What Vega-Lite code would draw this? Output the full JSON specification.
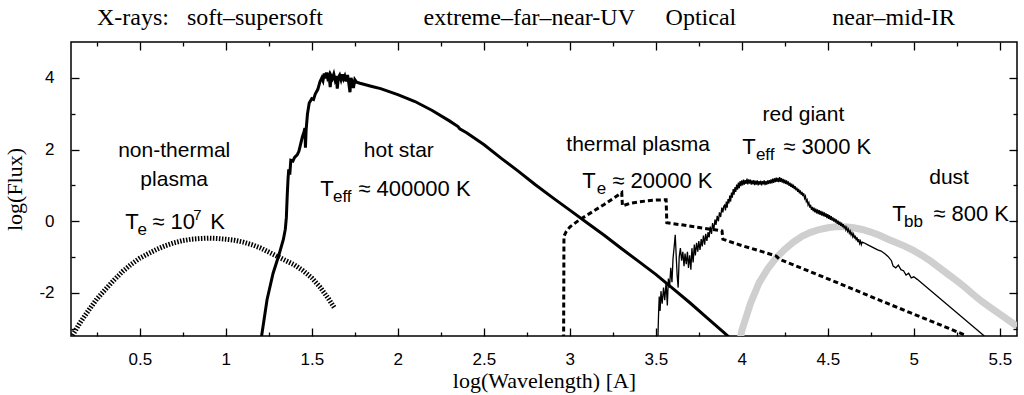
{
  "$schema": "https://vega.github.io/schema/vega-lite/v6.json",
  "width": 946,
  "height": 294,
  "autosize": {"type": "none"},
  "padding": {"left": 71, "top": 42, "right": 7, "bottom": 59},
  "background": "white",
  "config": {
    "font": "Liberation Sans",
    "view": {"stroke": "black", "strokeWidth": 1.5},
    "axis": {
      "domain": false,
      "tickColor": "black", "tickWidth": 1.3,
      "labelColor": "black", "labelFont": "Liberation Sans", "labelFontSize": 17,
      "titleColor": "black", "titleFont": "Liberation Serif", "titleFontSize": 22, "titleFontWeight": "normal",
      "grid": false
    }
  },
  "datasets": {
    "dust": [
      {"x":3.99,"y":-3.3},{"x":4.0,"y":-3.05},{"x":4.05,"y":-2.3},{"x":4.1,"y":-1.72},{"x":4.15,"y":-1.33},{"x":4.2,"y":-1.02},{"x":4.25,"y":-0.78},{"x":4.3,"y":-0.58},{"x":4.35,"y":-0.42},{"x":4.4,"y":-0.31},{"x":4.45,"y":-0.23},{"x":4.5,"y":-0.18},{"x":4.55,"y":-0.15},{"x":4.6,"y":-0.15},{"x":4.65,"y":-0.18},{"x":4.7,"y":-0.23},{"x":4.75,"y":-0.3},{"x":4.8,"y":-0.39},{"x":4.85,"y":-0.5},{"x":4.9,"y":-0.6},{"x":4.95,"y":-0.7},{"x":5.0,"y":-0.82},{"x":5.05,"y":-0.96},{"x":5.1,"y":-1.12},{"x":5.15,"y":-1.3},{"x":5.2,"y":-1.48},{"x":5.25,"y":-1.66},{"x":5.3,"y":-1.85},{"x":5.35,"y":-2.06},{"x":5.4,"y":-2.25},{"x":5.45,"y":-2.42},{"x":5.5,"y":-2.59},{"x":5.55,"y":-2.76},{"x":5.6,"y":-2.93}
    ],
    "nonthermal": [
      {"x":0.1,"y":-3.25},{"x":0.15,"y":-2.85},{"x":0.2,"y":-2.5},{"x":0.25,"y":-2.17},{"x":0.3,"y":-1.9},{"x":0.35,"y":-1.64},{"x":0.4,"y":-1.4},{"x":0.45,"y":-1.2},{"x":0.5,"y":-1.03},{"x":0.55,"y":-0.9},{"x":0.6,"y":-0.78},{"x":0.65,"y":-0.68},{"x":0.7,"y":-0.6},{"x":0.75,"y":-0.54},{"x":0.8,"y":-0.5},{"x":0.85,"y":-0.48},{"x":0.9,"y":-0.47},{"x":0.95,"y":-0.48},{"x":1.0,"y":-0.5},{"x":1.05,"y":-0.53},{"x":1.1,"y":-0.58},{"x":1.15,"y":-0.65},{"x":1.2,"y":-0.74},{"x":1.25,"y":-0.86},{"x":1.3,"y":-0.98},{"x":1.35,"y":-1.1},{"x":1.4,"y":-1.22},{"x":1.45,"y":-1.38},{"x":1.5,"y":-1.58},{"x":1.55,"y":-1.85},{"x":1.6,"y":-2.18},{"x":1.63,"y":-2.4}
    ],
    "hotstar": [
      {"x":1.205,"y":-3.3},{"x":1.24,"y":-2.18},{"x":1.275,"y":-1.45},{"x":1.307,"y":-0.97},{"x":1.335,"y":-0.5},{"x":1.346,"y":-0.22},{"x":1.352,"y":0.1},{"x":1.357,"y":0.7},{"x":1.362,"y":1.2},{"x":1.366,"y":1.45},{"x":1.372,"y":1.3},{"x":1.378,"y":1.7},{"x":1.39,"y":1.68},{"x":1.4,"y":1.78},{"x":1.415,"y":1.85},{"x":1.425,"y":1.95},{"x":1.435,"y":2.15},{"x":1.445,"y":2.35},{"x":1.455,"y":2.5},{"x":1.46,"y":2.6},{"x":1.463,"y":2.05},{"x":1.467,"y":2.55},{"x":1.475,"y":3.0},{"x":1.485,"y":3.3},{"x":1.5,"y":3.42},{"x":1.51,"y":3.4},{"x":1.52,"y":3.55},{"x":1.535,"y":3.68},{"x":1.548,"y":3.9},{"x":1.558,"y":4.0},{"x":1.565,"y":3.92},{"x":1.572,"y":4.12},{"x":1.578,"y":3.98},{"x":1.585,"y":4.15},{"x":1.592,"y":4.0},{"x":1.6,"y":4.08},{"x":1.607,"y":3.74},{"x":1.613,"y":4.05},{"x":1.62,"y":3.98},{"x":1.628,"y":4.1},{"x":1.635,"y":3.95},{"x":1.642,"y":4.05},{"x":1.648,"y":3.7},{"x":1.655,"y":4.02},{"x":1.662,"y":4.08},{"x":1.67,"y":3.95},{"x":1.678,"y":4.1},{"x":1.685,"y":3.97},{"x":1.692,"y":4.05},{"x":1.7,"y":3.9},{"x":1.708,"y":4.08},{"x":1.715,"y":3.85},{"x":1.722,"y":3.6},{"x":1.728,"y":4.0},{"x":1.735,"y":3.88},{"x":1.742,"y":3.72},{"x":1.75,"y":3.95},{"x":1.76,"y":3.88},{"x":1.78,"y":3.85},{"x":1.85,"y":3.76},{"x":1.9,"y":3.7},{"x":2.0,"y":3.53},{"x":2.1,"y":3.34},{"x":2.2,"y":3.09},{"x":2.3,"y":2.8},{"x":2.35,"y":2.64},{"x":2.36,"y":2.58},{"x":2.4,"y":2.47},{"x":2.5,"y":2.14},{"x":2.6,"y":1.76},{"x":2.7,"y":1.4},{"x":2.8,"y":1.02},{"x":2.9,"y":0.66},{"x":3.0,"y":0.31},{"x":3.1,"y":-0.04},{"x":3.2,"y":-0.39},{"x":3.3,"y":-0.76},{"x":3.4,"y":-1.12},{"x":3.5,"y":-1.48},{"x":3.6,"y":-1.88},{"x":3.7,"y":-2.28},{"x":3.8,"y":-2.7},{"x":3.9,"y":-3.12},{"x":3.93,"y":-3.25}
    ],
    "thermal": [
      {"x":2.964,"y":-3.3},{"x":2.966,"y":-0.42},{"x":2.98,"y":-0.28},{"x":3.0,"y":-0.16},{"x":3.05,"y":0.02},{"x":3.1,"y":0.17},{"x":3.15,"y":0.32},{"x":3.2,"y":0.47},{"x":3.25,"y":0.63},{"x":3.302,"y":0.8},{"x":3.306,"y":0.43},{"x":3.35,"y":0.5},{"x":3.4,"y":0.54},{"x":3.45,"y":0.57},{"x":3.5,"y":0.59},{"x":3.56,"y":0.6},{"x":3.564,"y":-0.04},{"x":3.65,"y":-0.1},{"x":3.76,"y":-0.18},{"x":3.885,"y":-0.27},{"x":3.89,"y":-0.5},{"x":4.0,"y":-0.68},{"x":4.1,"y":-0.82},{"x":4.2,"y":-0.97},{"x":4.22,"y":-1.06},{"x":4.4,"y":-1.41},{"x":4.6,"y":-1.8},{"x":4.8,"y":-2.2},{"x":5.0,"y":-2.59},{"x":5.2,"y":-2.98},{"x":5.3,"y":-3.18}
    ],
    "redgiant": [
      {"x":3.512,"y":-3.3},{"x":3.516,"y":-2.6},{"x":3.52,"y":-2.1},{"x":3.525,"y":-2.5},{"x":3.53,"y":-1.95},{"x":3.537,"y":-2.3},{"x":3.545,"y":-1.85},{"x":3.552,"y":-2.2},{"x":3.56,"y":-1.7},{"x":3.567,"y":-2.35},{"x":3.573,"y":-1.6},{"x":3.58,"y":-1.85},{"x":3.587,"y":-1.3},{"x":3.594,"y":-1.7},{"x":3.6,"y":-1.05},{"x":3.607,"y":-0.7},{"x":3.613,"y":-0.38},{"x":3.618,"y":-0.9},{"x":3.624,"y":-1.5},{"x":3.63,"y":-1.85},{"x":3.636,"y":-1.0},{"x":3.643,"y":-0.75},{"x":3.65,"y":-1.1},{"x":3.657,"y":-0.85},{"x":3.664,"y":-1.25},{"x":3.67,"y":-0.9},{"x":3.677,"y":-1.2},{"x":3.684,"y":-0.85},{"x":3.69,"y":-1.3},{"x":3.697,"y":-0.95},{"x":3.704,"y":-1.35},{"x":3.71,"y":-0.75},{"x":3.717,"y":-1.15},{"x":3.724,"y":-0.65},{"x":3.73,"y":-0.95},{"x":3.737,"y":-0.6},{"x":3.744,"y":-0.85},{"x":3.75,"y":-0.55},{"x":3.757,"y":-0.8},{"x":3.764,"y":-0.5},{"x":3.77,"y":-0.7},{"x":3.777,"y":-0.4},{"x":3.784,"y":-0.65},{"x":3.79,"y":-0.35},{"x":3.797,"y":-0.55},{"x":3.804,"y":-0.3},{"x":3.81,"y":-0.45},{"x":3.817,"y":-0.15},{"x":3.824,"y":-0.35},{"x":3.83,"y":-0.05},{"x":3.837,"y":-0.25},{"x":3.844,"y":0.05},{"x":3.85,"y":-0.1},{"x":3.857,"y":0.15},{"x":3.864,"y":0.0},{"x":3.87,"y":0.25},{"x":3.877,"y":0.12},{"x":3.884,"y":0.38},{"x":3.89,"y":0.25},{"x":3.895,"y":0.42},
      {"x":3.9,"y":0.45},{"x":3.905,"y":0.3},{"x":3.91,"y":0.55},{"x":3.915,"y":0.38},{"x":3.92,"y":0.62},{"x":3.925,"y":0.5},{"x":3.93,"y":0.72},{"x":3.935,"y":0.55},{"x":3.94,"y":0.8},{"x":3.945,"y":0.66},{"x":3.95,"y":0.9},{"x":3.955,"y":0.74},{"x":3.96,"y":0.95},{"x":3.965,"y":0.82},{"x":3.97,"y":1.02},{"x":3.975,"y":0.88},{"x":3.98,"y":1.08},{"x":3.985,"y":0.92},{"x":3.99,"y":1.12},{"x":3.995,"y":0.98},{"x":4.0,"y":1.14},{"x":4.005,"y":1.0},{"x":4.01,"y":1.16},{"x":4.015,"y":1.02},{"x":4.02,"y":1.15},{"x":4.025,"y":1.04},{"x":4.03,"y":1.19},{"x":4.035,"y":1.03},{"x":4.04,"y":1.17},{"x":4.045,"y":1.05},{"x":4.05,"y":1.16},{"x":4.055,"y":1.02},{"x":4.06,"y":1.14},{"x":4.065,"y":1.03},{"x":4.07,"y":1.15},{"x":4.075,"y":1.01},{"x":4.08,"y":1.13},{"x":4.085,"y":1.02},{"x":4.09,"y":1.14},{"x":4.095,"y":1.0},{"x":4.1,"y":1.12},{"x":4.105,"y":1.02},{"x":4.11,"y":1.13},{"x":4.115,"y":1.0},{"x":4.12,"y":1.12},{"x":4.125,"y":1.03},{"x":4.13,"y":1.14},{"x":4.135,"y":1.01},{"x":4.14,"y":1.12},{"x":4.145,"y":1.02},{"x":4.15,"y":1.14},{"x":4.155,"y":1.04},{"x":4.16,"y":1.15},{"x":4.165,"y":1.05},{"x":4.17,"y":1.17},{"x":4.175,"y":1.06},{"x":4.18,"y":1.19},{"x":4.185,"y":1.07},{"x":4.19,"y":1.2},{"x":4.195,"y":1.09},{"x":4.2,"y":1.22},{"x":4.205,"y":1.1},{"x":4.21,"y":1.21},{"x":4.215,"y":1.09},{"x":4.22,"y":1.23},{"x":4.225,"y":1.1},{"x":4.23,"y":1.2},{"x":4.235,"y":1.08},{"x":4.24,"y":1.18},{"x":4.245,"y":1.06},{"x":4.25,"y":1.16},{"x":4.255,"y":1.04},{"x":4.26,"y":1.14},{"x":4.265,"y":1.02},{"x":4.27,"y":1.11},{"x":4.275,"y":0.99},{"x":4.28,"y":1.08},{"x":4.285,"y":0.96},{"x":4.29,"y":1.05},{"x":4.295,"y":0.93},{"x":4.3,"y":1.02},{"x":4.305,"y":0.9},{"x":4.31,"y":0.98},{"x":4.315,"y":0.86},{"x":4.32,"y":0.94},{"x":4.325,"y":0.82},{"x":4.33,"y":0.9},{"x":4.335,"y":0.78},{"x":4.34,"y":0.86},{"x":4.345,"y":0.74},{"x":4.35,"y":0.82},{"x":4.355,"y":0.7},{"x":4.36,"y":0.78},{"x":4.365,"y":0.64},{"x":4.37,"y":0.7},{"x":4.375,"y":0.55},{"x":4.38,"y":0.6},{"x":4.385,"y":0.46},{"x":4.39,"y":0.52},{"x":4.395,"y":0.38},{"x":4.4,"y":0.46},{"x":4.405,"y":0.32},{"x":4.41,"y":0.4},{"x":4.415,"y":0.28},{"x":4.42,"y":0.38},{"x":4.425,"y":0.25},{"x":4.43,"y":0.35},{"x":4.435,"y":0.22},{"x":4.44,"y":0.33},{"x":4.445,"y":0.2},{"x":4.45,"y":0.31},{"x":4.455,"y":0.18},{"x":4.46,"y":0.29},{"x":4.465,"y":0.16},{"x":4.47,"y":0.27},{"x":4.475,"y":0.14},{"x":4.48,"y":0.25},{"x":4.485,"y":0.12},{"x":4.49,"y":0.22},{"x":4.495,"y":0.09},{"x":4.5,"y":0.2},{"x":4.505,"y":0.07},{"x":4.51,"y":0.17},{"x":4.515,"y":0.04},{"x":4.52,"y":0.14},{"x":4.525,"y":0.02},{"x":4.53,"y":0.11},{"x":4.535,"y":-0.01},{"x":4.54,"y":0.08},{"x":4.545,"y":-0.04},{"x":4.55,"y":0.05},{"x":4.555,"y":-0.07},{"x":4.56,"y":0.02},{"x":4.565,"y":-0.1},{"x":4.57,"y":-0.01},{"x":4.575,"y":-0.13},{"x":4.58,"y":-0.04},{"x":4.585,"y":-0.16},{"x":4.59,"y":-0.08},{"x":4.595,"y":-0.2},{"x":4.6,"y":-0.12},{"x":4.605,"y":-0.24},{"x":4.61,"y":-0.17},{"x":4.615,"y":-0.28},{"x":4.62,"y":-0.22},{"x":4.625,"y":-0.33},{"x":4.63,"y":-0.27},{"x":4.635,"y":-0.38},{"x":4.64,"y":-0.32},{"x":4.645,"y":-0.43},{"x":4.65,"y":-0.36},{"x":4.655,"y":-0.48},{"x":4.66,"y":-0.4},{"x":4.665,"y":-0.53},{"x":4.67,"y":-0.45},{"x":4.675,"y":-0.58},{"x":4.68,"y":-0.5},{"x":4.685,"y":-0.62},{"x":4.69,"y":-0.55},{"x":4.695,"y":-0.65},{"x":4.7,"y":-0.58},
      {"x":4.71,"y":-0.6},{"x":4.73,"y":-0.65},{"x":4.75,"y":-0.7},{"x":4.77,"y":-0.75},{"x":4.79,"y":-0.8},{"x":4.81,"y":-0.83},{"x":4.83,"y":-0.9},{"x":4.85,"y":-0.98},{"x":4.87,"y":-1.1},{"x":4.88,"y":-1.25},{"x":4.895,"y":-1.3},{"x":4.91,"y":-1.22},{"x":4.925,"y":-1.35},{"x":4.94,"y":-1.38},{"x":4.955,"y":-1.5},{"x":4.97,"y":-1.45},{"x":4.985,"y":-1.58},{"x":5.0,"y":-1.55},{"x":5.02,"y":-1.62},{"x":5.41,"y":-3.2}
    ],
    "toplabels": [
      {"t":"X-rays:","x":0.251,"y":5.47},{"t":"soft–supersoft","x":0.774,"y":5.47},{"t":"extreme–far–near-UV","x":2.15,"y":5.47},{"t":"Optical","x":3.557,"y":5.47},{"t":"near–mid-IR","x":4.526,"y":5.47}
    ],
    "centerlabels": [
      {"t":"non-thermal","x":0.7,"y":1.79},{"t":"plasma","x":0.7,"y":0.99},{"t":"hot star","x":2.006,"y":1.79},{"t":"thermal plasma","x":3.397,"y":1.96},{"t":"red giant","x":4.358,"y":2.8},{"t":"dust","x":5.205,"y":1.03}
    ],
    "mainparts": [
      {"t":"T","x":0.416,"y":-0.22},{"t":"≈ 10","x":0.573,"y":-0.22},{"t":"K","x":0.91,"y":-0.22},
      {"t":"T","x":1.549,"y":0.71},{"t":"≈ 400000 K","x":1.77,"y":0.71},
      {"t":"T","x":3.073,"y":0.94},{"t":"≈ 20000 K","x":3.247,"y":0.94},
      {"t":"T","x":4.003,"y":1.87},{"t":"≈ 3000 K","x":4.241,"y":1.87},
      {"t":"T","x":4.875,"y":0.01},{"t":"≈ 800 K","x":5.113,"y":0.01}
    ],
    "subparts": [
      {"t":"e","x":0.487,"y":-0.22},{"t":"eff","x":1.623,"y":0.71},{"t":"e","x":3.157,"y":0.94},{"t":"eff","x":4.082,"y":1.87},{"t":"bb","x":4.943,"y":0.01}
    ],
    "supparts": [
      {"t":"7","x":0.811,"y":-0.22}
    ]
  },
  "resolve": {"axis": {"x": "independent", "y": "independent"}},
  "layer": [
    {
      "data": {"name": "dust"},
      "mark": {"type": "line", "color": "#cfcfcf", "strokeWidth": 7, "clip": true},
      "encoding": {
        "x": {"field": "x", "type": "quantitative", "scale": {"domain": [0.1, 5.6], "nice": false, "zero": false},
          "axis": {"orient": "bottom", "title": "log(Wavelength) [A]", "values": [0.5,1,1.5,2,2.5,3,3.5,4,4.5,5,5.5],
            "ticks": false, "labelExpr": "'' + datum.value", "labelPadding": 15, "titlePadding": 3}},
        "y": {"field": "y", "type": "quantitative", "scale": {"domain": [-3.2, 5.0], "nice": false, "zero": false},
          "axis": {"orient": "left", "title": "log(Flux)", "values": [-2,0,2,4],
            "ticks": false, "labelExpr": "'' + datum.value", "labelPadding": 17, "titlePadding": 12}}
      }
    },
    {
      "data": {"name": "nonthermal"},
      "mark": {"type": "line", "color": "black", "strokeWidth": 5, "strokeDash": [1.5, 1.5], "clip": true},
      "encoding": {
        "x": {"field": "x", "type": "quantitative",
          "axis": {"orient": "top", "offset": -294, "title": null, "labels": false, "values": [0.5,1,1.5,2,2.5,3,3.5,4,4.5,5,5.5], "tickSize": 8}},
        "y": {"field": "y", "type": "quantitative",
          "axis": {"orient": "right", "offset": -946, "title": null, "labels": false, "values": [-2,0,2,4], "tickSize": 8}}
      }
    },
    {
      "data": {"name": "hotstar"},
      "mark": {"type": "line", "color": "black", "strokeWidth": 3, "clip": true},
      "encoding": {
        "x": {"field": "x", "type": "quantitative",
          "axis": {"orient": "top", "offset": -294, "title": null, "labels": false, "values": [0.25,0.75,1.25,1.75,2.25,2.75,3.25,3.75,4.25,4.75,5.25], "tickSize": 4}},
        "y": {"field": "y", "type": "quantitative",
          "axis": {"orient": "right", "offset": -946, "title": null, "labels": false, "values": [-3,-1,1,3], "tickSize": 4}}
      }
    },
    {
      "data": {"name": "thermal"},
      "mark": {"type": "line", "color": "black", "strokeWidth": 3, "strokeDash": [5, 3], "clip": true},
      "encoding": {
        "x": {"field": "x", "type": "quantitative",
          "axis": {"orient": "bottom", "offset": -294, "title": null, "labels": false, "values": [0.5,1,1.5,2,2.5,3,3.5,4,4.5,5,5.5], "tickSize": 8}},
        "y": {"field": "y", "type": "quantitative",
          "axis": {"orient": "left", "offset": -946, "title": null, "labels": false, "values": [-2,0,2,4], "tickSize": 8}}
      }
    },
    {
      "data": {"name": "redgiant"},
      "mark": {"type": "line", "color": "black", "strokeWidth": 1.3, "clip": true},
      "encoding": {
        "x": {"field": "x", "type": "quantitative",
          "axis": {"orient": "bottom", "offset": -294, "title": null, "labels": false, "values": [0.25,0.75,1.25,1.75,2.25,2.75,3.25,3.75,4.25,4.75,5.25], "tickSize": 4}},
        "y": {"field": "y", "type": "quantitative",
          "axis": {"orient": "left", "offset": -946, "title": null, "labels": false, "values": [-3,-1,1,3], "tickSize": 4}}
      }
    },
    {
      "data": {"name": "toplabels"},
      "mark": {"type": "text", "font": "Liberation Serif", "fontSize": 24, "align": "left", "baseline": "alphabetic", "color": "black"},
      "encoding": {
        "x": {"field": "x", "type": "quantitative", "axis": null},
        "y": {"field": "y", "type": "quantitative", "axis": null},
        "text": {"field": "t"}
      }
    },
    {
      "data": {"name": "centerlabels"},
      "mark": {"type": "text", "font": "Liberation Sans", "fontSize": 21, "align": "center", "baseline": "alphabetic", "color": "black"},
      "encoding": {
        "x": {"field": "x", "type": "quantitative", "axis": null},
        "y": {"field": "y", "type": "quantitative", "axis": null},
        "text": {"field": "t"}
      }
    },
    {
      "data": {"name": "mainparts"},
      "mark": {"type": "text", "font": "Liberation Sans", "fontSize": 22, "align": "left", "baseline": "alphabetic", "color": "black"},
      "encoding": {
        "x": {"field": "x", "type": "quantitative", "axis": null},
        "y": {"field": "y", "type": "quantitative", "axis": null},
        "text": {"field": "t"}
      }
    },
    {
      "data": {"name": "subparts"},
      "mark": {"type": "text", "font": "Liberation Sans", "fontSize": 17, "align": "left", "baseline": "alphabetic", "dy": 6, "color": "black"},
      "encoding": {
        "x": {"field": "x", "type": "quantitative", "axis": null},
        "y": {"field": "y", "type": "quantitative", "axis": null},
        "text": {"field": "t"}
      }
    },
    {
      "data": {"name": "supparts"},
      "mark": {"type": "text", "font": "Liberation Sans", "fontSize": 15, "align": "left", "baseline": "alphabetic", "dy": -9, "color": "black"},
      "encoding": {
        "x": {"field": "x", "type": "quantitative", "axis": null},
        "y": {"field": "y", "type": "quantitative", "axis": null},
        "text": {"field": "t"}
      }
    }
  ]
}
